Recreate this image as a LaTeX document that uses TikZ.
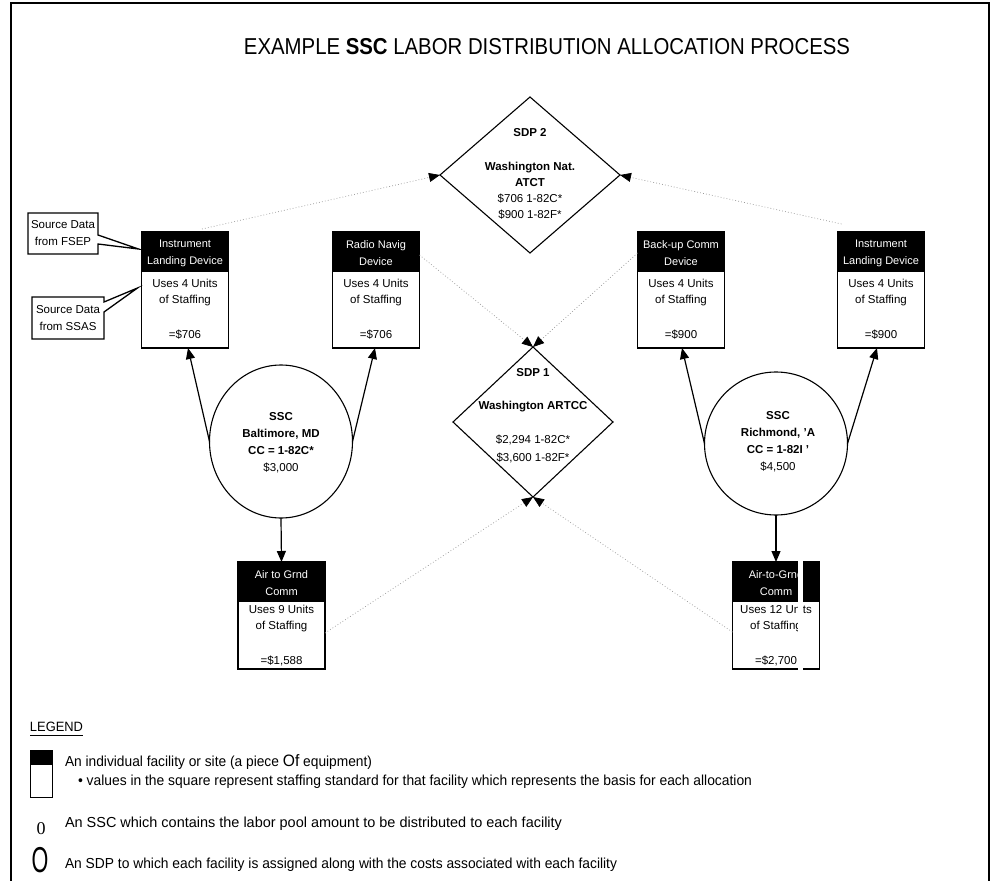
\documentclass[tikz,border=0pt]{standalone}
\usepackage{fontspec}
\usepackage{graphicx}
\setmainfont{Liberation Sans}
\newfontfamily\numserif{Liberation Serif}
\usetikzlibrary{arrows.meta,shapes.geometric,calc}

% facility box: #1 name, #2 x centre, #3 top, #4 bottom, #5 header,
% #6 staffing text, #7 its y, #8 cost, #9 its y
\newcommand\facility[9]{%
  \node[facbox, minimum height={#4-#3}] (#1) at (#2,{(#3+#4)/2}) {};
  \fill (#1.north west) rectangle ([yshift=-40pt]#1.north east);
  \node[headtxt] (#1-head) at ([yshift=-21pt]#1.north) {#5};
  \node[bodytxt] (#1-body) at (#2,#7) {#6};
  \node[bodytxt] (#1-val) at (#2,#9) {#8};
}

\begin{document}
\begin{tikzpicture}[x=1pt,y=-1pt,
  every node/.style={inner sep=0pt,outer sep=0pt},
  facbox/.style={draw, fill=white, line width=1.2pt, minimum width=87pt},
  headtxt/.style={text=white, align=center, font=\fontsize{11}{17}\selectfont},
  bodytxt/.style={align=center, font=\fontsize{11.5}{16}\selectfont},
  sdpshape/.style={diamond, draw, line width=1.1pt},
  sscshape/.style={ellipse, draw, line width=1.1pt},
  boldtxt/.style={align=center, font=\bfseries\fontsize{11.5}{17}\selectfont},
  plaintxt/.style={align=center, font=\fontsize{11.5}{16}\selectfont},
  flow/.style={line width=1.2pt, -{Triangle[length=11pt,width=9pt]}},
  assign/.style={draw=black!40, line width=0.7pt, dash pattern=on 0.8pt off 2.2pt,
                 -{Triangle[length=11pt,width=9pt,color=black]}},
  callout/.style={line width=1.3pt},
  calltxt/.style={align=center, font=\fontsize{11.5}{17}\selectfont},
  legtxt/.style={anchor=west, font=\fontsize{14.5}{16}\selectfont}]

\useasboundingbox (0,0) rectangle (997,881);

% page frame
\draw[line width=2pt] (11,885) -- (11,3) -- (989,3) -- (989,885);

% title
\node (title) at (547,47) {\fontsize{23}{26}\selectfont
  \resizebox{606pt}{\height}{EXAMPLE \textbf{SSC} LABOR DISTRIBUTION ALLOCATION PROCESS}};

% service delivery points
\node[sdpshape, minimum width=180pt, minimum height=156pt] (sdp2) at (530,175) {};
\node[boldtxt] (sdp2-id) at (530,133) {SDP 2};
\node[plaintxt] (sdp2-txt) at (530,191)
  {\textbf{Washington Nat.}\\\textbf{ATCT}\\\$706 1-82C*\\\$900 1-82F*};

\node[sdpshape, minimum width=160pt, minimum height=150pt] (sdp1) at (533,422) {};
\node[boldtxt] (sdp1-id) at (533,373) {SDP 1};
\node[boldtxt] (sdp1-name) at (533,407) {Washington ARTCC};
\node[align=center, font=\fontsize{11.5}{18}\selectfont] (sdp1-cost) at (533,449)
  {\$2,294 1-82C*\\\$3,600 1-82F*};

% facilities
\facility{lild}{185}{232}{348}{Instrument\\Landing Device}{Uses 4 Units\\of Staffing}{293}{=\$706}{335}
\facility{radio}{376}{232}{348}{Radio Navig\\Device}{Uses 4 Units\\of Staffing}{293}{=\$706}{335}
\facility{backup}{681}{232}{348}{Back-up Comm\\Device}{Uses 4 Units\\of Staffing}{293}{=\$900}{335}
\facility{rild}{881}{232}{348}{Instrument\\Landing Device}{Uses 4 Units\\of Staffing}{293}{=\$900}{335}
\facility{lag}{281.5}{562}{669}{Air to Grnd\\Comm}{Uses 9 Units\\of Staffing}{619}{=\$1,588}{661}
\facility{rag}{776}{562}{669}{Air-to-Grnd\\Comm}{Uses 12 Units\\of Staffing}{619}{=\$2,700}{661}
% worn strip through the Richmond air-to-ground box
\fill[white] (798,558) rectangle (803,673);

% service support centres
\node[sscshape, minimum width=143pt, minimum height=153pt] (balt) at (281,441.5) {};
\node[boldtxt] (balt-txt) at (281,443)
  {SSC\\Baltimore, MD\\CC = 1-82C*\\\mdseries\$3,000};
\node[sscshape, minimum width=143pt, minimum height=143pt] (rich) at (776,443.5) {};
\node[boldtxt] (rich-txt) at (778,442)
  {SSC\\Richmond, ’A\\CC = 1-82I ’\\\mdseries\$4,500};

% labour distribution
\draw[flow] (balt.west) -- ([xshift=3pt]lild.south);
\draw[flow] (balt.east) -- ([xshift=-1pt]radio.south);
\draw[flow] (balt.south) -- (lag.north);
\draw[flow] (rich.west) -- ([xshift=1pt]backup.south);
\draw[flow] (rich.east) -- ([xshift=-4pt]rild.south);
\draw[flow] (rich.south) -- (rag.north);

% facility to SDP assignment
\draw[assign] ([xshift=17pt,yshift=3pt]lild.north) -- (sdp2.west);
\draw[assign] ([xshift=4pt,yshift=8pt]rild.north west) -- (sdp2.east);
\draw[assign] ([yshift=35pt]radio.east) -- (sdp1.north);
\draw[assign] ([yshift=37pt]backup.west) -- (sdp1.north);
\draw[assign] ([yshift=-17.5pt]lag.east) -- (sdp1.south);
\draw[assign] ([yshift=-16.5pt]rag.west) -- (sdp1.south);

% source data callouts
\node[calltxt, minimum width=70pt, minimum height=41pt] (fsep) at (63,233.5) {Source Data\\from FSEP};
\coordinate (fsep-tip) at ([xshift=-3pt,yshift=-17pt]lild.north west);
\draw[callout] (fsep.north west) -- (fsep.north east) -- ([yshift=-22pt]fsep.north east)
  -- (fsep-tip) -- ([yshift=-31pt]fsep.north east) -- (fsep.south east)
  -- (fsep.south west) -- cycle;
\node[calltxt, minimum width=72pt, minimum height=42pt] (ssas) at (68,318) {Source Data\\from SSAS};
\coordinate (ssas-tip) at ([xshift=-4pt,yshift=-56pt]lild.north west);
\draw[callout] (ssas.north west) -- (ssas.north east) -- ([yshift=-5pt]ssas.north east)
  -- (ssas-tip) -- ([yshift=-15pt]ssas.north east) -- (ssas.south east)
  -- (ssas.south west) -- cycle;

% legend
\node[anchor=west, font=\fontsize{13.5}{14}\selectfont] (legtitle) at (30,727)
  {\resizebox{53pt}{\height}{LEGEND}};
\draw[line width=1.4pt] ([yshift=-4pt]legtitle.base west) -- ([yshift=-4pt]legtitle.base east);
\node[draw, line width=1pt, minimum width=22pt, minimum height=47pt] (legfac) at (41,773.5) {};
\fill (legfac.north west) rectangle ([yshift=-15pt]legfac.north east);
\node[legtxt] (legfac-a) at (65,762)
  {\resizebox{307pt}{\height}{An individual facility or site (a piece {\fontsize{16.5}{16}\selectfont Of} equipment)}};
\node[legtxt] (legfac-b) at (78,782)
  {\resizebox{674pt}{\height}{\textbullet\ values in the square represent staffing standard for that facility which represents the basis for each allocation}};
\node[font=\numserif\fontsize{18}{18}\selectfont] (legssc) at (41,829) {0};
\node[legtxt] (legssc-a) at (65,824)
  {\resizebox{497pt}{\height}{An SSC which contains the labor pool amount to be distributed to each facility}};
\node[font=\fontsize{36}{36}\selectfont] (legsdp) at (40,860) {\scalebox{0.6}[1]{O}};
\node[legtxt] (legsdp-a) at (65,865)
  {\resizebox{552pt}{\height}{An SDP to which each facility is assigned along with the costs associated with each facility}};

\end{tikzpicture}
\end{document}
